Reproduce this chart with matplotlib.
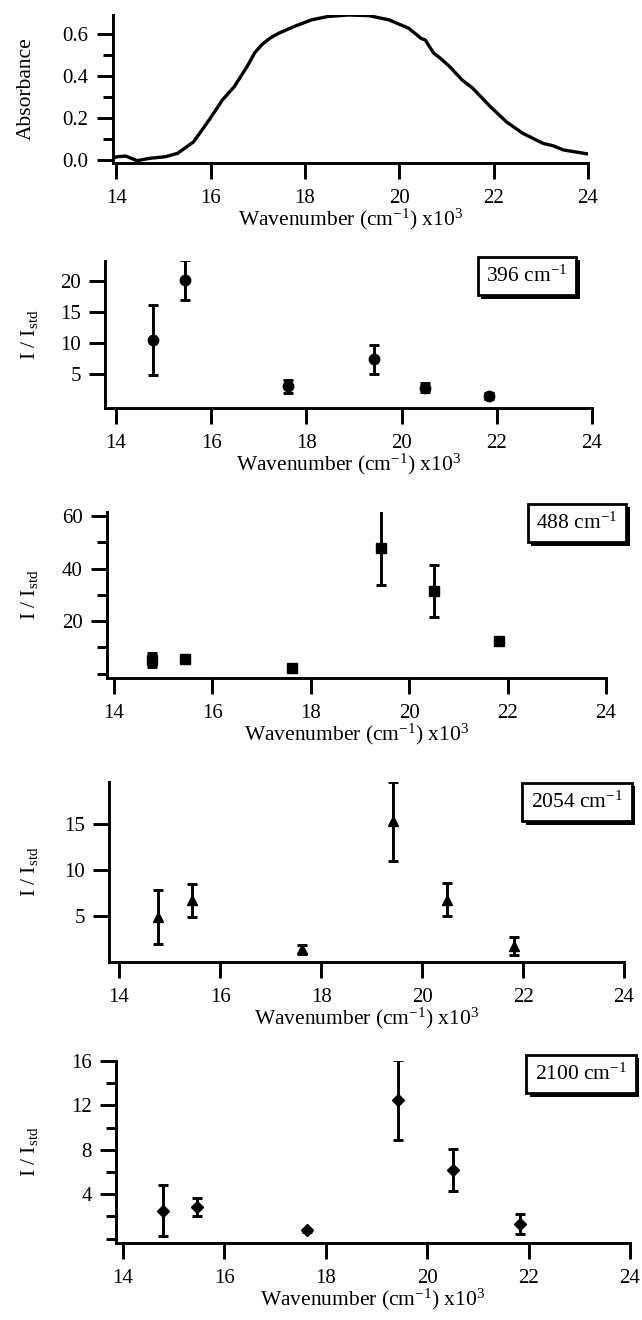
import matplotlib
matplotlib.use("Agg")
import matplotlib.pyplot as plt
import matplotlib.patheffects as pe
from matplotlib.ticker import MultipleLocator, FormatStrFormatter

plt.rcParams['font.family'] = ['Liberation Serif', 'DejaVu Serif']
plt.rcParams['mathtext.default'] = 'regular'

# absorption spectrum (x10^3 cm-1, absorbance)
wn_spec = [13.95, 14.03, 14.2, 14.32, 14.44, 14.7, 15.04, 15.3, 15.64, 15.99, 16.25,
           16.5, 16.77, 16.94, 17.1, 17.28, 17.45, 17.8, 18.14, 18.49, 18.92, 19.35,
           19.78, 20.2, 20.46, 20.55, 20.73, 20.85, 21.07, 21.33, 21.55, 21.93,
           22.28, 22.62, 23.05, 23.26, 23.48, 24.0]
abs_spec = [0.012, 0.016, 0.019, 0.008, -0.003, 0.008, 0.016, 0.032, 0.087, 0.198, 0.286,
            0.349, 0.444, 0.512, 0.552, 0.583, 0.604, 0.638, 0.667, 0.683, 0.690, 0.687,
            0.667, 0.627, 0.579, 0.571, 0.508, 0.488, 0.444, 0.381, 0.343, 0.254,
            0.180, 0.127, 0.079, 0.068, 0.048, 0.029]

# excitation wavenumbers of the Raman profiles
x_exc = [14.78, 15.45, 17.62, 19.43, 20.50, 21.83]

i396 = [10.4, 20.2, 2.9, 7.3, 2.7, 1.4]
e396 = [5.7, 3.2, 1.0, 2.4, 0.7, 0.5]
i488 = [5.2, 5.5, 2.2, 48.0, 31.6, 12.4]
e488 = [2.8, 0.9, 0.6, 14.3, 9.9, 1.0]
i2054 = [4.9, 6.7, 1.4, 15.3, 6.8, 1.75]
e2054 = [2.9, 1.75, 0.5, 4.35, 1.8, 0.95]
i2100 = [2.5, 2.85, 0.75, 12.5, 6.2, 1.35]
e2100 = [2.3, 0.85, 0.15, 3.6, 1.9, 0.9]

W, H = 642, 1320
fig = plt.figure(figsize=(W / 100, H / 100), dpi=100)


def add_ax(l, r, t, b):
    return fig.add_axes([l / W, 1 - b / H, (r - l) / W, (b - t) / H])


def style(ax, xleft, ylim, major, minor=None):
    ax.set_xlim(xleft, 24)
    ax.set_ylim(*ylim)
    for s in ['top', 'right']:
        ax.spines[s].set_visible(False)
    for s in ['left', 'bottom']:
        ax.spines[s].set_linewidth(2.1)
    ax.xaxis.set_major_locator(MultipleLocator(2))
    ax.yaxis.set_major_locator(MultipleLocator(major))
    if minor:
        ax.yaxis.set_minor_locator(MultipleLocator(minor))
    ax.tick_params(which='major', direction='out', length=11.5, width=2.1,
                   labelsize=15, pad=6)
    ax.tick_params(axis='x', pad=7)
    ax.tick_params(which='minor', direction='out', length=7, width=2.1)
    ax.set_xlabel('Wavenumber (cm$^{-1}$) x10$^{3}$', fontsize=15.5, labelpad=-1)


# panel 1: absorption spectrum
ax1 = add_ax(113, 588, 15, 163)
ax1.plot(wn_spec, abs_spec, color='black', lw=2.4)
style(ax1, 13.93, (-0.014, 0.69), 0.2, 0.1)
ax1.yaxis.set_major_formatter(FormatStrFormatter('%.1f'))
ax1.set_ylabel('Absorbance', fontsize=15.5)
ax1.yaxis.set_label_coords((36 - 113) / 475, 0.5)

panels = [
    ((105, 592, 261, 408), 13.77, (-0.6, 23.3), 5, None, i396, e396, 'o', 7.5,
     '396 cm$^{-1}$', (527, 276)),
    ((107, 606, 512, 678), 13.86, (-1.7, 61.6), 20, 10, i488, e488, 's', 7,
     '488 cm$^{-1}$', (577, 523)),
    ((109, 624, 782, 962), 13.8, (0, 19.6), 5, None, i2054, e2054, '^', 7.5,
     '2054 cm$^{-1}$', (577, 802)),
    ((116, 630, 1061, 1243), 13.86, (-0.4, 16.0), 4, 2, i2100, e2100, 'D', 6,
     '2100 cm$^{-1}$', (581, 1074)),
]

for rect, xl, yl, maj, mnr, yv, ev, mk, ms, lab, (bx, by) in panels:
    l, r, t, b = rect
    ax = add_ax(l, r, t, b)
    ax.errorbar(x_exc, yv, yerr=ev, fmt=mk, color='black', ms=ms,
                elinewidth=2.1, capsize=3.8, capthick=2.1)
    style(ax, xl, yl, maj, mnr)
    ax.set_yticks([v for v in ax.get_yticks() if v > 0 and v <= yl[1]])
    ax.set_ylabel('I / I$_{std}$', fontsize=15.5)
    ax.yaxis.set_label_coords((40 - l) / (r - l), 0.5)
    txt = ax.text((bx - l) / (r - l), (b - by) / (b - t), lab, transform=ax.transAxes,
                  ha='center', va='center', fontsize=15.5,
                  bbox=dict(boxstyle='square,pad=0.4', fc='white', ec='black', lw=2.0))
    txt.get_bbox_patch().set_path_effects(
        [pe.withSimplePatchShadow(offset=(2.4, -2.4), shadow_rgbFace='black', alpha=1)])

fig.savefig('out.png', dpi=100)
